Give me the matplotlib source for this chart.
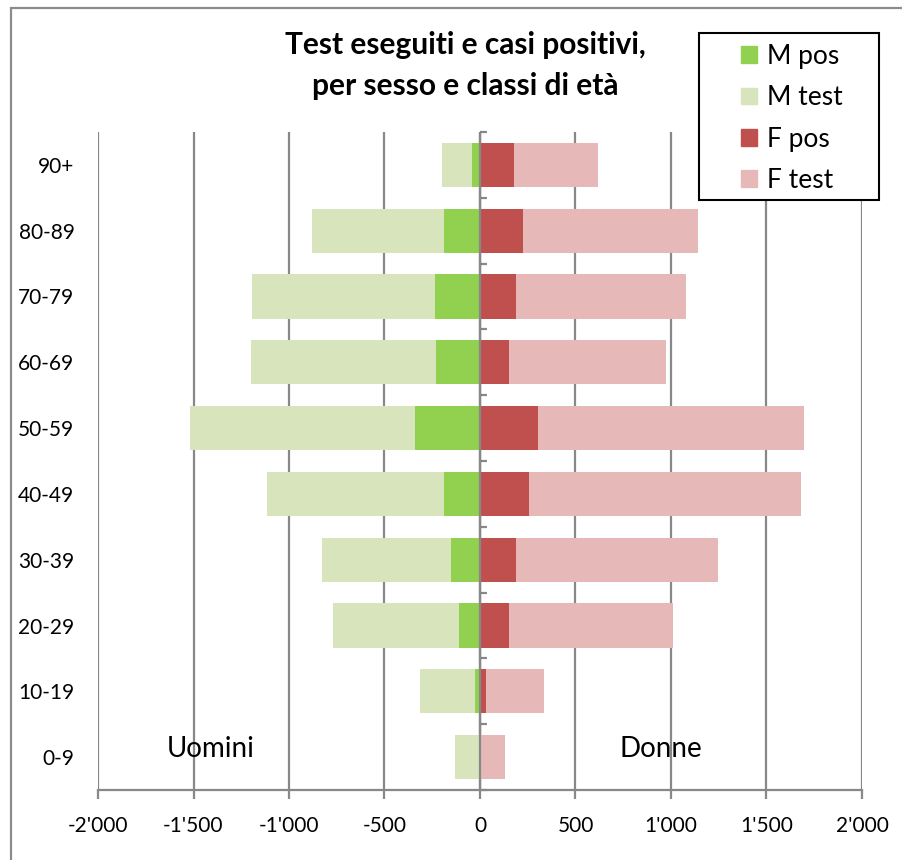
import numpy as np
import matplotlib.pyplot as plt
from matplotlib.patches import Rectangle, Patch
from matplotlib.ticker import FuncFormatter

plt.rcParams['font.family'] = ['Lato', 'DejaVu Sans']

# data (0-9 at the bottom, 90+ at the top)
ages = ['0-9', '10-19', '20-29', '30-39', '40-49', '50-59', '60-69', '70-79', '80-89', '90+']
m_test = [130, 315, 770, 825, 1115, 1520, 1200, 1195, 880, 200]
m_pos = [3, 25, 110, 150, 190, 340, 228, 236, 187, 42]
f_test = [130, 333, 1010, 1245, 1680, 1698, 973, 1080, 1140, 616]
f_pos = [3, 32, 151, 191, 258, 303, 151, 191, 226, 177]

c_mpos = '#92D050'
c_mtest = '#D8E4BC'
c_fpos = '#C0504D'
c_ftest = '#E6B9B8'
grey = '#888888'

fig = plt.figure(figsize=(9.03, 8.6), dpi=100)
ax = fig.add_axes([98/903, 1-790/860, 764/903, 658/860])

y = np.arange(len(ages))
h = 0.67
ax.barh(y, -np.array(m_test), height=h, color=c_mtest, zorder=2)
ax.barh(y, -np.array(m_pos), height=h, color=c_mpos, zorder=3)
ax.barh(y, f_test, height=h, color=c_ftest, zorder=2)
ax.barh(y, f_pos, height=h, color=c_fpos, zorder=3)

ax.set_xlim(-2000, 2000)
ax.set_ylim(-0.5, len(ages)-0.5)
ax.set_xticks(np.arange(-2000, 2001, 500))
ax.xaxis.set_major_formatter(FuncFormatter(lambda v, p: f"{int(v):,}".replace(',', "'")))
ax.grid(axis='x', color=grey, linewidth=1.6, zorder=0)
ax.set_axisbelow(True)

for s in ['top', 'right', 'left']:
    ax.spines[s].set_visible(False)
ax.spines['bottom'].set_color(grey)
ax.spines['bottom'].set_linewidth(1.6)
ax.tick_params(axis='x', direction='out', length=6.5, width=1.6, color=grey,
               labelsize=15, pad=12)
ax.set_yticks(y)
ax.set_yticklabels(ages)
ax.tick_params(axis='y', length=0, labelsize=15, pad=17)

# vertical axis at zero with ticks between categories
ax.axvline(0, color=grey, linewidth=1.6, zorder=4)
sec = ax.secondary_yaxis(0.5)
sec.set_yticks(np.arange(-0.5, len(ages), 1.0))
sec.set_yticklabels([])
sec.spines['left'].set_visible(False)
sec.tick_params(axis='y', direction='out', length=5, width=1.6, color=grey)

ax.text(-1408, 0.13, 'Uomini', fontsize=20, ha='center', va='center')
ax.text(945, 0.13, 'Donne', fontsize=20, ha='center', va='center')

fig.text(465/903, 1-45/860, 'Test eseguiti e casi positivi,', fontsize=21.5,
         fontweight='bold', ha='center', va='center')
fig.text(465/903, 1-86/860, 'per sesso e classi di età', fontsize=21.5,
         fontweight='bold', ha='center', va='center')

# legend box
fig.patches.append(Rectangle((699/903, 1-200/860), 180/903, 167/860,
                             transform=fig.transFigure, facecolor='white',
                             edgecolor='black', linewidth=1.5, zorder=5))
handles = [Patch(color=c_mpos, label='M pos'), Patch(color=c_mtest, label='M test'),
           Patch(color=c_fpos, label='F pos'), Patch(color=c_ftest, label='F test')]
leg = fig.legend(handles=handles, loc='center', bbox_to_anchor=(792/903, 1-118.5/860),
                 frameon=False, fontsize=19, handlelength=0.6, handleheight=0.6,
                 handletextpad=0.4, labelspacing=0.62)
leg.set_zorder(6)

# outer chart frame
fig.patches.append(Rectangle((11/903, -0.1), 1.2, 1.1-8/860, transform=fig.transFigure,
                             facecolor='none', edgecolor='#8c8c8c', linewidth=1.6))

plt.savefig('out.png', dpi=100)
